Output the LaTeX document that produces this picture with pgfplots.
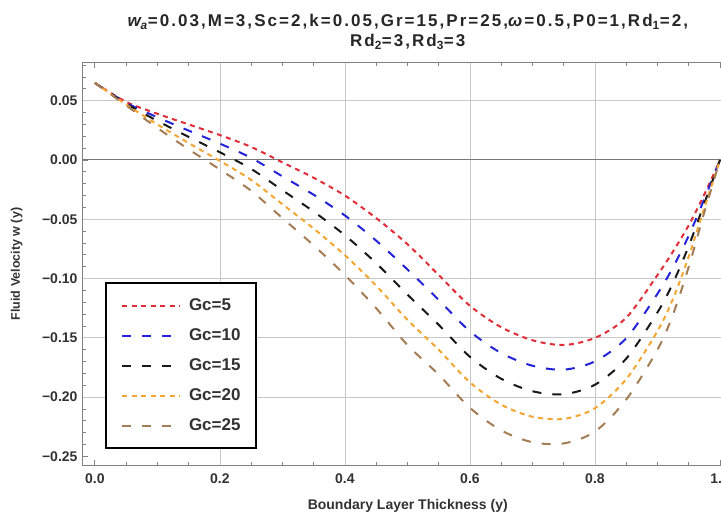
\documentclass[border=0pt]{standalone}
\usepackage{pgfplots}
\usepackage{pgfplotstable}
\pgfplotsset{compat=1.18}
\usepackage{fontspec}
\setmainfont{Liberation Sans}
\newfontfamily\titlefont[LetterSpace=12]{Liberation Sans}

\definecolor{gcred}{RGB}{225,45,55}
\definecolor{gcblue}{RGB}{35,35,215}
\definecolor{gcblack}{RGB}{25,25,25}
\definecolor{gcorange}{RGB}{245,165,50}
\definecolor{gcbrown}{RGB}{165,125,85}
\definecolor{gridgray}{RGB}{200,200,200}
\definecolor{framegray}{RGB}{130,130,130}
\definecolor{zerogray}{RGB}{120,120,120}
\definecolor{txtgray}{RGB}{50,50,50}

% fluid velocity w(y) for Gc = 5,10,15,20,25
\pgfplotstableread{
x      gc5      gc10     gc15     gc20     gc25
0.000  0.0650   0.0650   0.0650   0.0650   0.0650
0.050  0.0490   0.0483   0.0475   0.0468   0.0460
0.100  0.0390   0.0360   0.0330   0.0300   0.0270
0.150  0.0300   0.0248   0.0195   0.0143   0.0090
0.200  0.0210   0.0138   0.0065  -0.0008  -0.0080
0.250  0.0110   0.0018  -0.0075  -0.0168  -0.0260
0.300 -0.0020  -0.0138  -0.0255  -0.0373  -0.0490
0.350 -0.0150  -0.0293  -0.0435  -0.0578  -0.0720
0.400 -0.0300  -0.0468  -0.0635  -0.0803  -0.0970
0.450 -0.0490  -0.0680  -0.0870  -0.1060  -0.1250
0.500 -0.0710  -0.0923  -0.1135  -0.1348  -0.1560
0.550 -0.0970  -0.1180  -0.1390  -0.1600  -0.1810
0.600 -0.1230  -0.1445  -0.1660  -0.1875  -0.2090
0.650 -0.1410  -0.1628  -0.1845  -0.2063  -0.2280
0.700 -0.1520  -0.1735  -0.1950  -0.2165  -0.2380
0.750 -0.1560  -0.1768  -0.1975  -0.2183  -0.2390
0.800 -0.1500  -0.1698  -0.1895  -0.2093  -0.2290
0.850 -0.1330  -0.1503  -0.1675  -0.1848  -0.2020
0.900 -0.0970  -0.1128  -0.1285  -0.1443  -0.1600
0.925 -0.0770  -0.0903  -0.1035  -0.1168  -0.1300
0.950 -0.0550  -0.0638  -0.0725  -0.0813  -0.0900
0.975 -0.0290  -0.0328  -0.0365  -0.0403  -0.0440
1.000  0.0000   0.0000   0.0000   0.0000   0.0000
}\velocity

\begin{document}
\begin{tikzpicture}
\begin{axis}[
    scale only axis,
    width=649.5bp, height=402bp,
    xmin=-0.019, xmax=1.02,
    ymin=-0.2572, ymax=0.0818,
    xtick={0,0.2,0.4,0.6,0.8,1.0},
    xticklabels={0.0,0.2,0.4,0.6,0.8,1.0},
    ytick={-0.25,-0.2,-0.15,-0.1,-0.05,0,0.05},
    yticklabels={−0.25,−0.20,−0.15,−0.10,−0.05,0.00,0.05},
    minor xtick={0.05,0.1,0.15,0.25,0.3,0.35,0.45,0.5,0.55,0.65,0.7,0.75,0.85,0.9,0.95},
    minor ytick={-0.24,-0.23,-0.22,-0.21,-0.19,-0.18,-0.17,-0.16,-0.14,-0.13,-0.12,-0.11,-0.09,-0.08,-0.07,-0.06,-0.04,-0.03,-0.02,-0.01,0.01,0.02,0.03,0.04,0.06,0.07,0.08},
    major tick length=5bp, minor tick length=3bp,
    tick style={framegray, line width=0.8bp},
    axis line style={framegray, line width=1bp},
    ticklabel style={font=\fontsize{14bp}{16bp}\selectfont\bfseries, text=txtgray},
    yticklabel style={xshift=-2bp},
    xticklabel style={yshift=-5bp},
    extra x ticks={0.2,0.4,0.6,0.8},
    extra x tick labels={},
    extra y ticks={-0.2,-0.15,-0.1,-0.05,0.05},
    extra y tick labels={},
    extra tick style={grid=major, major tick length=0pt,
        major grid style={gridgray, line width=0.8bp}},
    xlabel={Boundary Layer Thickness (y)},
    ylabel={Fluid Velocity w (y)},
    xlabel style={at={(axis description cs:0.5,-0.1095)}, anchor=base,
        font=\fontsize{14bp}{16bp}\selectfont\bfseries, text=txtgray},
    ylabel style={at={(axis description cs:-0.097,0.5)}, anchor=base,
        font=\fontsize{12.5bp}{15bp}\selectfont\bfseries, text=txtgray},
    legend style={at={(0.0339,0.4552)}, anchor=north west,
        draw=black, line width=2bp, fill=white,
        inner xsep=15bp, inner ysep=15bp,
        row sep=15bp, column sep=8bp,
        font=\fontsize{17bp}{20bp}\selectfont\bfseries, text=txtgray,
        nodes={inner sep=0pt, text height=12bp, text depth=3bp}},
    legend cell align=left,
    legend image code/.code={\draw[#1] (0bp,0bp) -- (58bp,0bp);},
]
\addplot[zerogray, line width=1bp, forget plot] coordinates {(-0.019,0) (1.02,0)};
\addplot[gcred, line width=2bp, dash pattern=on 5bp off 4.5bp, smooth] table[x=x, y=gc5] {\velocity};
\addplot[gcblue, line width=2bp, dash pattern=on 9bp off 11bp, smooth] table[x=x, y=gc10] {\velocity};
\addplot[gcblack, line width=2bp, dash pattern=on 9bp off 11bp, smooth] table[x=x, y=gc15] {\velocity};
\addplot[gcorange, line width=2bp, dash pattern=on 5bp off 4.5bp, smooth] table[x=x, y=gc20] {\velocity};
\addplot[gcbrown, line width=2bp, dash pattern=on 9bp off 11bp, smooth] table[x=x, y=gc25] {\velocity};
\legend{Gc=5, Gc=10, Gc=15, Gc=20, Gc=25}
\end{axis}
\node[anchor=base, font=\titlefont\bfseries\fontsize{17bp}{20bp}\selectfont, text=black!85]
  at ([yshift=36bp]current axis.north)
  {\textit{w\textsubscript{a}}=0.03,M=3,Sc=2,k=0.05,Gr=15,Pr=25,\textit{ω}=0.5,P0=1,Rd\textsubscript{1}=2,};
\node[anchor=base, font=\titlefont\bfseries\fontsize{17bp}{20bp}\selectfont, text=black!85]
  at ([yshift=16bp]current axis.north)
  {Rd\textsubscript{2}=3,Rd\textsubscript{3}=3};
\pgfresetboundingbox
\path[use as bounding box] ([shift={(-83bp,-51bp)}]current axis.south west)
  rectangle ([shift={(638bp,63bp)}]current axis.north west);
\end{tikzpicture}
\end{document}
